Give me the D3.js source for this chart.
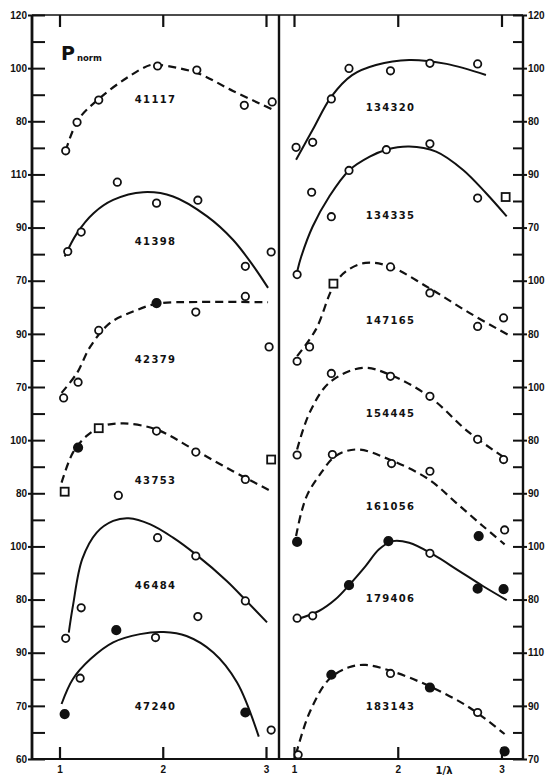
<!DOCTYPE html>
<html lang="en">
<head>
<meta charset="UTF-8">
<title>Pnorm against 1/λ</title>
<script src="https://d3js.org/d3.v7.min.js"></script>
<style>
  body { margin: 0; background: #fff; }
  svg { display: block; font-family: "DejaVu Sans", sans-serif; font-weight: bold; }
  .tick text { font-size: 10px; fill: #111; }
  .star { font-size: 10px; letter-spacing: 1.3px; fill: #111; }
</style>
</head>
<body>
<div id="chart"></div>
<script>
// axis tick labels, read top to bottom
const leftTickLabels  = [120, 100, 80, 110, 90, 70, 90, 70, 100, 80, 100, 80, 90, 70, 60];
const rightTickLabels = [120, 100, 80, 90, 70, 100, 80, 100, 80, 90, 100, 80, 110, 90, 70];
const xTicks = [1, 2, 3];

// stars, top to bottom in each panel
const starNames  = ["41117", "41398", "42379", "43753", "46484", "47240",
                    "134320", "134335", "147165", "154445", "161056", "179406", "183143"];
const starPanel  = ["L", "L", "L", "L", "L", "L", "R", "R", "R", "R", "R", "R", "R"];
const starShift  = [160, 110, 70, 20, -20, -50, 160, 130, 80, 40, 10, -20, -70];
const starDashed = [true, false, true, true, false, false, false, false, true, true, true, false, true];
const starLabelP = [88, 84.7, 80.3, 84.8, 85.1, 69.5, 85.1, 74.5, 84.7, 90, 85, 80.1, 89.4];

// observed points: [1/λ, Pnorm, marker]   o = open circle, f = filled circle, s = square
const obs41117 = [[1.06,68.9,"o"],[1.17,79.6,"o"],[1.38,88.0,"o"],[1.95,100.8,"o"],[2.33,99.3,"o"],[2.79,86.0,"o"],[3.06,87.3,"o"]];
const obs41398 = [[1.08,81.0,"o"],[1.21,88.3,"o"],[1.56,107.1,"o"],[1.94,99.2,"o"],[2.34,100.3,"o"],[2.80,75.4,"o"],[3.05,80.8,"o"]];
const obs42379 = [[1.04,65.9,"o"],[1.18,71.8,"o"],[1.38,91.3,"o"],[1.94,101.6,"f"],[2.32,98.2,"o"],[2.80,104.1,"o"],[3.03,85.1,"o"]];
const obs43753 = [[1.05,80.6,"s"],[1.18,97.2,"f"],[1.38,104.5,"s"],[1.57,79.2,"o"],[1.94,103.4,"o"],[2.32,95.5,"o"],[2.80,85.2,"o"],[3.05,92.7,"s"]];
const obs46484 = [[1.06,65.4,"o"],[1.21,76.9,"o"],[1.95,103.3,"o"],[2.32,96.4,"o"],[2.34,73.6,"o"],[2.80,79.5,"o"]];
const obs47240 = [[1.05,66.9,"f"],[1.20,80.4,"o"],[1.55,98.5,"f"],[1.93,95.7,"o"],[2.80,67.5,"f"],[3.05,60.9,"o"]];
const obs134320 = [[1.02,70.2,"o"],[1.18,72.1,"o"],[1.36,88.4,"o"],[1.53,99.9,"o"],[1.93,99.0,"o"],[2.31,101.8,"o"],[2.77,101.6,"o"]];
const obs134335 = [[1.03,52.3,"o"],[1.17,83.3,"o"],[1.36,74.1,"o"],[1.53,91.5,"o"],[1.89,99.3,"o"],[2.31,101.5,"o"],[2.77,81.1,"o"],[3.04,81.5,"s"]];
const obs147165 = [[1.03,69.7,"o"],[1.15,75.1,"o"],[1.38,98.9,"s"],[1.93,105.2,"o"],[2.31,95.4,"o"],[2.77,82.8,"o"],[3.02,86.0,"o"]];
const obs154445 = [[1.03,74.4,"o"],[1.36,105.1,"o"],[1.93,104.0,"o"],[2.31,96.5,"o"],[2.77,80.3,"o"],[3.02,72.7,"o"]];
const obs161056 = [[1.03,71.7,"f"],[1.37,104.6,"o"],[1.94,101.2,"o"],[2.31,98.3,"o"],[2.78,73.9,"f"],[3.03,76.2,"o"]];
const obs179406 = [[1.03,73.0,"o"],[1.18,73.9,"o"],[1.53,85.4,"f"],[1.91,102.0,"f"],[2.31,97.4,"o"],[2.77,84.1,"f"],[3.02,83.9,"f"]];
const obs183143 = [[1.04,71.6,"o"],[1.36,101.7,"f"],[1.93,102.2,"o"],[2.31,96.9,"f"],[2.77,87.5,"o"],[3.03,72.9,"f"]];

// fitted curves as drawn: [1/λ, Pnorm]
const fit41117 = [[1.06,68.9],[1.18,80.5],[1.38,88.4],[1.65,96.3],[1.88,101.2],[1.97,101.2],[2.33,98.2],[2.68,91.4],[3.07,84.3]];
const fit41398 = [[1.05,79.1],[1.17,87.9],[1.33,95.4],[1.52,100.4],[1.81,103.3],[2.10,101.7],[2.43,94.2],[2.68,85.4],[2.88,75.4],[3.02,67.3]];
const fit42379 = [[1.02,67.8],[1.17,75.3],[1.30,85.3],[1.49,94.1],[1.72,98.5],[1.94,101.3],[2.36,102.0],[3.02,101.9]];
const fit43753 = [[1.02,84.0],[1.13,95.3],[1.26,101.5],[1.42,105.3],[1.62,106.3],[1.94,104.0],[2.30,96.5],[2.68,88.3],[3.07,80.4]];
const fit46484 = [[1.09,67.6],[1.13,77.6],[1.22,95.2],[1.36,105.2],[1.52,109.6],[1.67,110.6],[1.88,108.3],[2.10,103.3],[2.32,97.0],[2.62,87.0],[2.81,79.5],[3.01,71.4]];
const fit47240 = [[1.02,70.7],[1.13,80.1],[1.30,87.6],[1.52,93.9],[1.78,97.0],[2.01,97.8],[2.23,96.3],[2.49,90.1],[2.72,78.8],[2.93,58.4]];
const fit134320 = [[1.02,65.5],[1.18,76.8],[1.36,89.3],[1.56,97.4],[1.79,101.2],[2.11,103.1],[2.47,101.6],[2.85,97.4]];
const fit134335 = [[1.03,53.4],[1.07,59.1],[1.18,70.4],[1.34,81.7],[1.53,91.5],[1.73,96.7],[1.89,99.3],[2.11,100.5],[2.37,98.6],[2.63,91.7],[2.85,83.0],[3.05,74.2]];
const fit147165 = [[1.03,71.6],[1.21,81.6],[1.38,97.9],[1.50,103.5],[1.69,106.7],[1.92,105.4],[2.30,97.3],[2.69,87.9],[3.08,79.3]];
const fit154445 = [[1.03,76.5],[1.15,90.3],[1.34,101.6],[1.66,107.2],[1.92,104.7],[2.30,96.5],[2.69,82.8],[3.03,73.4]];
const fit161056 = [[1.02,73.9],[1.07,82.7],[1.13,89.6],[1.24,96.5],[1.40,104.0],[1.61,106.5],[1.92,102.7],[2.30,95.2],[2.56,86.5],[2.82,77.7],[3.03,70.8]];
const fit179406 = [[1.03,72.6],[1.24,75.7],[1.40,80.1],[1.53,85.4],[1.69,92.6],[1.82,98.9],[1.95,102.0],[2.11,101.4],[2.34,97.0],[2.59,90.8],[2.82,85.1],[3.05,79.8]];
const fit183143 = [[1.02,71.9],[1.15,87.5],[1.34,100.1],[1.53,104.5],[1.69,105.4],[1.93,103.2],[2.30,97.5],[2.69,89.4],[3.03,79.4]];

const obsList = [obs41117, obs41398, obs42379, obs43753, obs46484, obs47240,
                 obs134320, obs134335, obs147165, obs154445, obs161056, obs179406, obs183143];
const fitList = [fit41117, fit41398, fit42379, fit43753, fit46484, fit47240,
                 fit134320, fit134335, fit147165, fit154445, fit161056, fit179406, fit183143];

const stars = starNames.map((name, i) => ({
  name, panel: starPanel[i], shift: starShift[i], dashed: starDashed[i],
  labelP: starLabelP[i], obs: obsList[i], fit: fitList[i]
}));

const W = 554, H = 778;
const frame = {left: 32, mid: 279, right: 523, top: 15, bottom: 759};
const ink = "#111";

const svg = d3.select("#chart").append("svg")
  .attr("width", W).attr("height", H);

// one stacked scale: each labelled tick is 20 units, each star is shifted onto it
const y = d3.scaleLinear().domain([0, 280]).range([frame.bottom, frame.top]);
const xs = {
  L: d3.scaleLinear().domain([1, 3]).range([59.5, 266]),
  R: d3.scaleLinear().domain([1, 3]).range([294, 501.5])
};

const major = d3.range(0, 281, 20);
const minor = d3.range(10, 280, 20);
const labelOf = arr => v => arr[Math.round((280 - v) / 20)];

// left axis
svg.append("g")
   .attr("transform", `translate(${frame.left},0)`)
   .call(d3.axisLeft(y).tickValues(major).tickSize(-13).tickPadding(5).tickFormat(labelOf(leftTickLabels)))
   .call(g => g.select(".domain").remove())
   .call(g => g.selectAll(".tick line").attr("x1", -4).attr("stroke", ink).attr("stroke-width", 2));
svg.append("g")
   .attr("transform", `translate(${frame.left},0)`)
   .call(d3.axisLeft(y).tickValues(minor).tickSize(-13).tickFormat(() => ""))
   .call(g => g.select(".domain").remove())
   .call(g => g.selectAll(".tick line").attr("stroke", ink).attr("stroke-width", 2));

// right axis
svg.append("g")
   .attr("transform", `translate(${frame.right},0)`)
   .call(d3.axisRight(y).tickValues(major).tickSize(-10).tickPadding(5).tickFormat(labelOf(rightTickLabels)))
   .call(g => g.select(".domain").remove())
   .call(g => g.selectAll(".tick line").attr("x1", 4).attr("stroke", ink).attr("stroke-width", 2));
svg.append("g")
   .attr("transform", `translate(${frame.right},0)`)
   .call(d3.axisRight(y).tickValues(minor).tickSize(-10).tickFormat(() => ""))
   .call(g => g.select(".domain").remove())
   .call(g => g.selectAll(".tick line").attr("stroke", ink).attr("stroke-width", 2));

// x axes, bottom with labels, top with ticks only
["L", "R"].forEach(p => {
  svg.append("g")
     .attr("transform", `translate(0,${frame.bottom})`)
     .call(d3.axisBottom(xs[p]).tickValues(xTicks).tickSize(-12).tickPadding(7).tickFormat(d3.format("d")))
     .call(g => g.select(".domain").remove())
     .call(g => g.selectAll(".tick line").attr("stroke", ink).attr("stroke-width", 2.2));
  svg.append("g")
     .attr("transform", `translate(0,${frame.top})`)
     .call(d3.axisBottom(xs[p]).tickValues(xTicks).tickSize(12).tickFormat(() => ""))
     .call(g => g.select(".domain").remove())
     .call(g => g.selectAll(".tick line").attr("stroke", ink).attr("stroke-width", 2.2));
});

// frame
const frameLines = [
  [frame.left, frame.top, frame.right, frame.top, 1.6],
  [frame.left, frame.bottom, frame.right, frame.bottom, 2],
  [frame.left, frame.top, frame.left, frame.bottom, 2.8],
  [frame.mid, frame.top, frame.mid, frame.bottom, 2.4],
  [frame.right, frame.top, frame.right, frame.bottom, 2.4]
];
svg.selectAll(".frame").data(frameLines).enter().append("line")
   .attr("x1", d => d[0]).attr("y1", d => d[1])
   .attr("x2", d => d[2]).attr("y2", d => d[3])
   .attr("stroke", ink).attr("stroke-width", d => d[4]);

// curves, markers and star numbers
stars.forEach(s => {
  const x = xs[s.panel];
  const line = d3.line()
    .x(d => x(d[0]))
    .y(d => y(d[1] + s.shift))
    .curve(d3.curveCatmullRom.alpha(0.5));

  svg.append("path")
     .datum(s.fit)
     .attr("d", line)
     .attr("fill", "none")
     .attr("stroke", ink)
     .attr("stroke-width", s.dashed ? 2.2 : 2)
     .attr("stroke-dasharray", s.dashed ? "8,5" : null);

  const g = svg.append("g");
  g.selectAll("circle")
   .data(s.obs.filter(d => d[2] !== "s"))
   .enter().append("circle")
   .attr("cx", d => x(d[0]))
   .attr("cy", d => y(d[1] + s.shift))
   .attr("r", d => d[2] === "f" ? 4.2 : 3.7)
   .attr("fill", d => d[2] === "f" ? ink : "#fff")
   .attr("stroke", ink)
   .attr("stroke-width", 1.8);
  g.selectAll("rect")
   .data(s.obs.filter(d => d[2] === "s"))
   .enter().append("rect")
   .attr("x", d => x(d[0]) - 4)
   .attr("y", d => y(d[1] + s.shift) - 4)
   .attr("width", 8).attr("height", 8)
   .attr("fill", "#fff")
   .attr("stroke", ink)
   .attr("stroke-width", 1.8);

  svg.append("text")
     .attr("class", "star")
     .attr("x", x(1.93))
     .attr("y", y(s.labelP + s.shift))
     .attr("text-anchor", "middle")
     .attr("dominant-baseline", "middle")
     .text(s.name);
});

// axis titles
const pn = svg.append("text").attr("x", 61).attr("y", 60).attr("fill", ink);
pn.append("tspan").style("font-size", "19px").text("P");
pn.append("tspan").style("font-size", "8.5px").attr("dx", 2).attr("dy", 1).text("norm");

svg.append("text")
   .attr("x", 444).attr("y", 774)
   .attr("text-anchor", "middle")
   .attr("fill", ink)
   .style("font-size", "10px")
   .text("1/λ");
</script>
</body>
</html>
